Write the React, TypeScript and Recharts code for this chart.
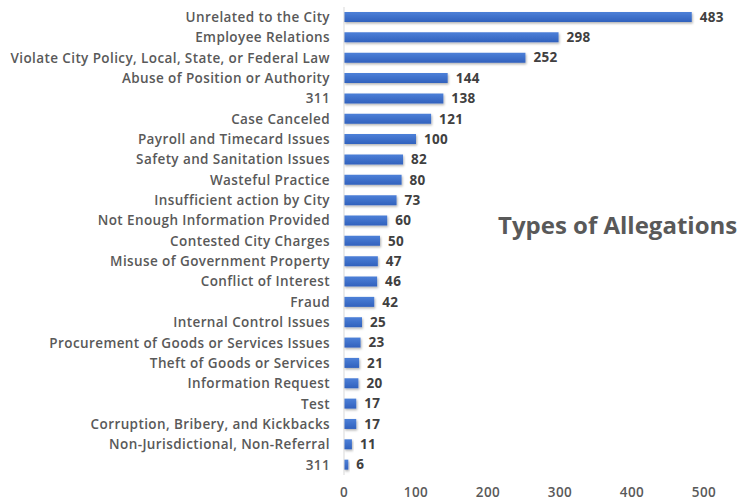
import React from "react";
import { BarChart, Bar, XAxis, YAxis, LabelList } from "recharts";

const categories = [
  "Unrelated to the City",
  "Employee Relations",
  "Violate City Policy, Local, State, or Federal Law",
  "Abuse of Position or Authority",
  "311",
  "Case Canceled",
  "Payroll and Timecard Issues",
  "Safety and Sanitation Issues",
  "Wasteful Practice",
  "Insufficient action by City",
  "Not Enough Information Provided",
  "Contested City Charges",
  "Misuse of Government Property",
  "Conflict of Interest",
  "Fraud",
  "Internal Control Issues",
  "Procurement of Goods or Services Issues",
  "Theft of Goods or Services",
  "Information Request",
  "Test",
  "Corruption, Bribery, and Kickbacks",
  "Non-Jurisdictional, Non-Referral",
  "311",
];

const counts = [483, 298, 252, 144, 138, 121, 100, 82, 80, 73, 60, 50, 47, 46, 42, 25, 23, 21, 20, 17, 17, 11, 6];

const xTicks = [0, 100, 200, 300, 400, 500];

const data = categories.map((name, i) => ({ id: i, name, count: counts[i] }));

const font = "'Open Sans', Lato, sans-serif";

const App = () => {
  return (
    <div style={{ position: "absolute", left: 0, top: 0, width: 753, height: 500, background: "#fff" }}>
      <BarChart
        width={753}
        height={500}
        data={data}
        layout="vertical"
        margin={{ top: 7, right: 49, left: 0, bottom: 0 }}
        barCategoryGap={5}
      >
        <defs>
          <linearGradient id="barFill" x1="0" y1="0" x2="0" y2="1">
            <stop offset="0%" stopColor="#4d80d8" />
            <stop offset="100%" stopColor="#3161bd" />
          </linearGradient>
          <filter id="barShadow" x="-10%" y="-50%" width="130%" height="250%">
            <feDropShadow dx="1" dy="1.5" stdDeviation="1.2" floodColor="#000" floodOpacity="0.3" />
          </filter>
        </defs>
        <XAxis
          type="number"
          domain={[0, 500]}
          ticks={xTicks}
          axisLine={false}
          tickLine={false}
          height={25}
          tick={{ fill: "#595959", fontSize: 13.5, fontWeight: 600, fontFamily: font, letterSpacing: 0.4 }}
          tickMargin={6}
        />
        <YAxis
          type="category"
          dataKey="id"
          width={344}
          tickFormatter={(i: number) => categories[i]}
          axisLine={{ stroke: "#d9d9d9" }}
          tickLine={false}
          interval={0}
          tickMargin={8}
          tick={{ fill: "#595959", fontSize: 13.5, fontWeight: 600, fontFamily: font, letterSpacing: 0.4 }}
        />
        <Bar
          dataKey="count"
          fill="url(#barFill)"
          barSize={10}
          isAnimationActive={false}
          style={{ filter: "url(#barShadow)" }}
        >
          <LabelList
            dataKey="count"
            position="right"
            offset={8}
            style={{ fill: "#404040", fontSize: 13.5, fontWeight: 700, fontFamily: font, letterSpacing: 0.3 }}
          />
        </Bar>
      </BarChart>
      <div
        style={{
          position: "absolute",
          left: 498,
          top: 208,
          fontFamily: font,
          fontSize: 24,
          fontWeight: 700,
          color: "#595959",
          whiteSpace: "nowrap",
        }}
      >
        Types of Allegations
      </div>
    </div>
  );
};

export default App;
